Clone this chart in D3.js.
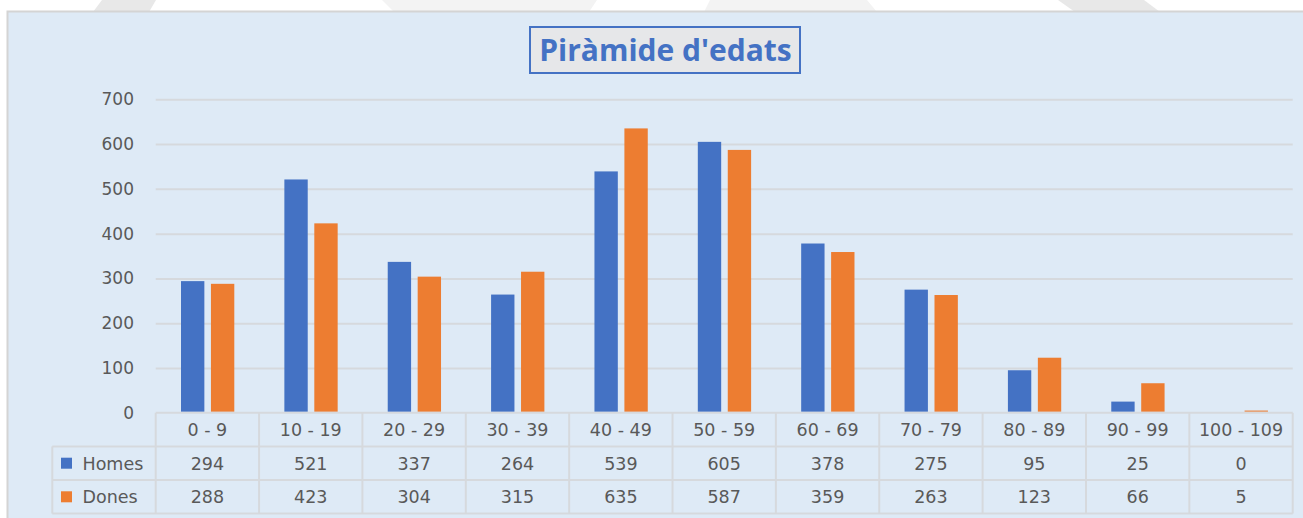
<!DOCTYPE html>
<html>
<head>
<meta charset="utf-8">
<script src="https://cdn.jsdelivr.net/npm/d3@7"></script>
<style>
  body { margin: 0; background: #ffffff; }
  svg { display: block; }
</style>
</head>
<body>
<div id="chart"></div>
<script>
// chart data
const categories = ["0 - 9", "10 - 19", "20 - 29", "30 - 39", "40 - 49", "50 - 59",
                    "60 - 69", "70 - 79", "80 - 89", "90 - 99", "100 - 109"];
const seriesNames = ["Homes", "Dones"];
const homes = [294, 521, 337, 264, 539, 605, 378, 275, 95, 25, 0];
const dones = [288, 423, 304, 315, 635, 587, 359, 263, 123, 66, 5];
const yTicks = [0, 100, 200, 300, 400, 500, 600, 700];
const titleText = "Piràmide d'edats";

const W = 1303, H = 518;
const colors = { Homes: "#4472c4", Dones: "#ed7d31" };
const textColor = "#595959";
const lineColor = "#d6d9dd";
const labelFont = "'DejaVu Sans', sans-serif";

const svg = d3.select("#chart").append("svg")
    .attr("width", W)
    .attr("height", H);

// faint watermark bands above the chart panel
const bands = [
    { pts: [[102, 0], [156, 0], [149, 12], [93, 12]], fill: "#e8e8e8" },
    { pts: [[382, 0], [597, 0], [589, 12], [394, 12]], fill: "#f3f3f3" },
    { pts: [[710, 0], [867, 0], [877, 12], [704, 12]], fill: "#f3f3f3" },
    { pts: [[1058, 0], [1144, 0], [1160, 12], [1075, 12]], fill: "#e8e8e8" }
];
svg.selectAll(".band")
    .data(bands)
    .enter().append("polygon")
    .attr("points", d => d.pts.map(p => p.join(",")).join(" "))
    .attr("fill", d => d.fill);

// chart panel
svg.append("rect")
    .attr("x", 7.5).attr("y", 11.5)
    .attr("width", W).attr("height", H)
    .attr("fill", "#deeaf6")
    .attr("stroke", "#d4d4d4")
    .attr("stroke-width", 2);

// scales
const x0 = d3.scaleBand()
    .domain(categories)
    .range([155.7, 1292.7])
    .padding(0);

const x1 = d3.scaleBand()
    .domain(seriesNames)
    .range([25.3, 78.6])
    .paddingInner(0.22)
    .paddingOuter(0);

const y = d3.scaleLinear()
    .domain([0, 700])
    .range([412.8, 99.3]);

// gridlines
svg.append("g")
    .attr("transform", `translate(${x0.range()[0]},0)`)
    .call(d3.axisLeft(y).tickValues(yTicks.slice(1)).tickSize(-(x0.range()[1] - x0.range()[0])).tickFormat(""))
    .call(g => g.select(".domain").remove())
    .call(g => g.selectAll("line").attr("stroke", lineColor).attr("stroke-width", 2));

// y labels
svg.append("g")
    .attr("transform", "translate(134,0)")
    .call(d3.axisLeft(y).tickValues(yTicks).tickSize(0).tickPadding(0))
    .call(g => g.select(".domain").remove())
    .call(g => g.selectAll("text")
        .attr("fill", textColor)
        .attr("font-family", labelFont)
        .attr("font-size", "17px"));

// bars
const rows = categories.map((c, i) => ({ cat: c, Homes: homes[i], Dones: dones[i] }));

const groups = svg.append("g").selectAll("g")
    .data(rows)
    .enter().append("g")
    .attr("transform", d => `translate(${x0(d.cat)},0)`);

groups.selectAll("rect")
    .data(d => seriesNames.map(s => ({ key: s, value: d[s] })))
    .enter().append("rect")
    .attr("x", d => x1(d.key))
    .attr("y", d => y(d.value))
    .attr("width", x1.bandwidth())
    .attr("height", d => y(0) - y(d.value) - 1)
    .attr("fill", d => colors[d.key]);

// data table
const tableTop = y(0);
const rowH = 33.6;
const tableLeft = 52.3;
const tableRight = x0.range()[1];
const tbl = svg.append("g");

// horizontal lines
tbl.append("line")
    .attr("x1", x0.range()[0]).attr("x2", tableRight)
    .attr("y1", tableTop).attr("y2", tableTop);
[1, 2, 3].forEach(r => {
    tbl.append("line")
        .attr("x1", tableLeft).attr("x2", tableRight)
        .attr("y1", tableTop + r * rowH).attr("y2", tableTop + r * rowH);
});
// vertical lines
tbl.append("line")
    .attr("x1", tableLeft).attr("x2", tableLeft)
    .attr("y1", tableTop + rowH).attr("y2", tableTop + 3 * rowH);
categories.forEach(c => {
    tbl.append("line")
        .attr("x1", x0(c)).attr("x2", x0(c))
        .attr("y1", tableTop).attr("y2", tableTop + 3 * rowH);
});
tbl.append("line")
    .attr("x1", tableRight).attr("x2", tableRight)
    .attr("y1", tableTop).attr("y2", tableTop + 3 * rowH);
tbl.selectAll("line").attr("stroke", lineColor).attr("stroke-width", 2);

// category labels
tbl.selectAll(".cat")
    .data(categories)
    .enter().append("text")
    .attr("class", "cat")
    .attr("x", d => x0(d) + x0.bandwidth() / 2)
    .attr("y", tableTop + rowH / 2)
    .attr("dy", "0.36em")
    .attr("text-anchor", "middle")
    .text(d => d);

// value rows
[homes, dones].forEach((vals, r) => {
    const cy = tableTop + (r + 1.5) * rowH;
    tbl.selectAll(".v" + r)
        .data(vals)
        .enter().append("text")
        .attr("class", "v" + r)
        .attr("x", (d, i) => x0(categories[i]) + x0.bandwidth() / 2)
        .attr("y", cy)
        .attr("dy", "0.36em")
        .attr("text-anchor", "middle")
        .text(d => d);

    tbl.append("rect")
        .attr("x", 61).attr("y", cy - 5.5)
        .attr("width", 11).attr("height", 11)
        .attr("fill", colors[seriesNames[r]]);

    tbl.append("text")
        .attr("class", "legend")
        .attr("x", 82.5)
        .attr("y", cy)
        .attr("dy", "0.36em")
        .text(seriesNames[r]);
});

tbl.selectAll("text")
    .attr("fill", textColor)
    .attr("font-family", labelFont)
    .attr("font-size", "17.5px");

// title in box
svg.append("rect")
    .attr("x", 530).attr("y", 27)
    .attr("width", 270).attr("height", 46)
    .attr("fill", "#e6e7e9")
    .attr("stroke", "#4472c4")
    .attr("stroke-width", 2);

svg.append("text")
    .attr("x", 665.5)
    .attr("y", 61)
    .attr("text-anchor", "middle")
    .attr("font-family", "'Open Sans', sans-serif")
    .attr("font-weight", "bold")
    .attr("font-size", "30px")
    .attr("fill", "#4472c4")
    .text(titleText);
</script>
</body>
</html>
